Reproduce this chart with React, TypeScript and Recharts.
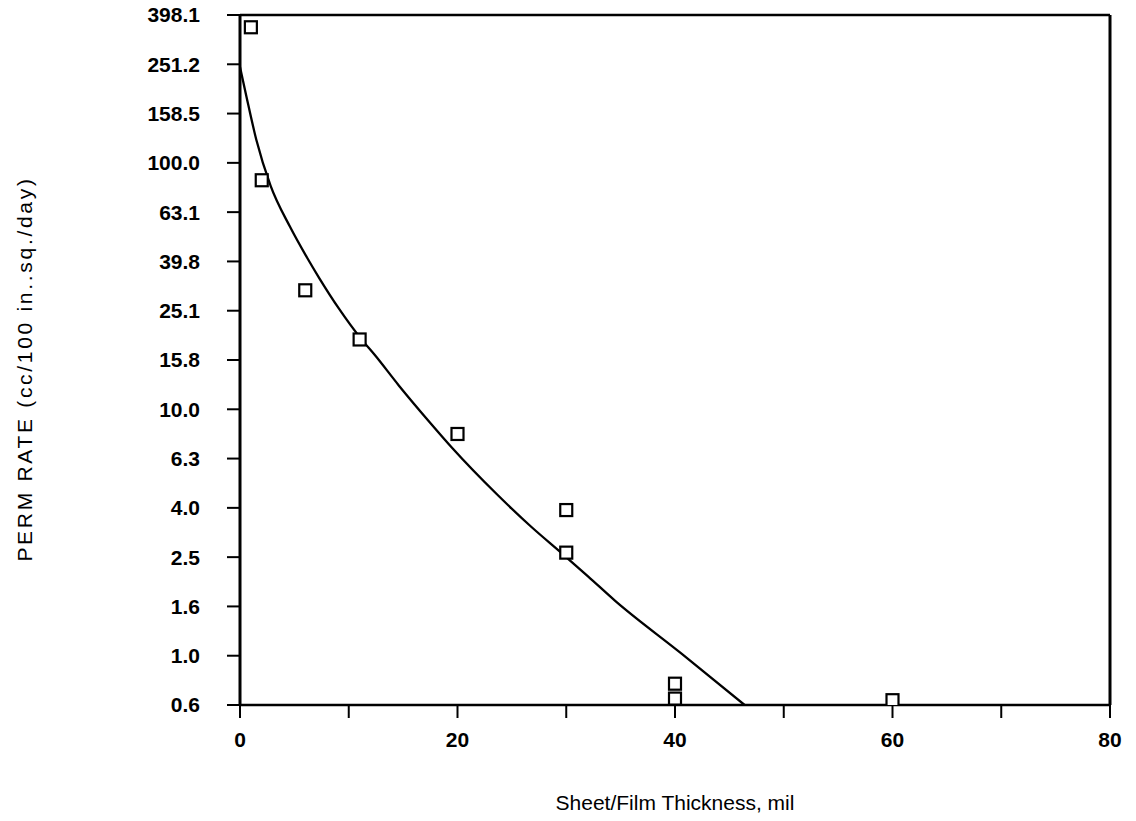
import { ComposedChart, Line, Scatter, XAxis, YAxis, Label, ReferenceLine } from "recharts"

// measured squares (thickness in mil, perm rate)
const sampleX = [1, 2, 6, 11, 20, 30, 30, 40, 40, 60]
const sampleY = [355, 85, 30.4, 19.2, 7.94, 3.9, 2.62, 0.77, 0.67, 0.66]

// fitted curve
const fitX = [0, 0.6, 1.5, 2.8, 4.6, 6.2, 7.3, 9.1, 11.1, 12.4, 14.6, 17.6, 19.6, 23.6, 26.7, 29.7, 32, 34.5, 40.6, 46.4]
const fitY = [245, 185, 124, 81, 55, 41, 34, 25.6, 19.4, 16.6, 12.5, 8.7, 6.9, 4.53, 3.36, 2.58, 2.1, 1.67, 1.02, 0.631]

const xTicks = [0, 10, 20, 30, 40, 50, 60, 70, 80]
const yTicks = [0.631, 1, 1.585, 2.512, 3.981, 6.31, 10, 15.85, 25.12, 39.81, 63.1, 100, 158.5, 251.2, 398.1]
const yTickLabels = ["0.6", "1.0", "1.6", "2.5", "4.0", "6.3", "10.0", "15.8", "25.1", "39.8", "63.1", "100.0", "158.5", "251.2", "398.1"]

const samples = sampleX.map((x, i) => ({ x, y: sampleY[i] }))
const fit = fitX.map((x, i) => ({ x, y: fitY[i] }))

const font = "'Liberation Sans', Arial, sans-serif"
const tickStyle = { fill: "#000", fontSize: 21, fontWeight: 700, fontFamily: font }

const SquareMark = (props: any) => {
  const { cx, cy } = props
  if (cx == null || cy == null) return null
  return <rect x={cx - 6} y={cy - 6} width={12} height={12} fill="#fff" stroke="#000" strokeWidth={2.2} />
}

const YTitle = (props: any) => {
  const vb = props.viewBox || {}
  const cy = (vb.y ?? 15) + (vb.height ?? 690) / 2 + 9
  return (
    <text
      x={24}
      y={cy}
      transform={`rotate(-90, 24, ${cy})`}
      textAnchor="middle"
      dominantBaseline="central"
      fontSize={21}
      fontFamily={font}
      letterSpacing={2.7}
      fill="#000"
    >
      PERM RATE (cc/100 in..sq./day)
    </text>
  )
}

const XTitle = (props: any) => {
  const vb = props.viewBox || {}
  const cx = (vb.x ?? 240) + (vb.width ?? 870) / 2
  const y = (vb.y ?? 705) + 105
  return (
    <text x={cx} y={y} textAnchor="middle" fontSize={21} fontFamily={font} fill="#000">
      Sheet/Film Thickness, mil
    </text>
  )
}

export default function App() {
  return (
    <div style={{ position: "absolute", left: 0, top: 0, width: 1136, height: 821, background: "#fff" }}>
      <ComposedChart width={1136} height={821} margin={{ top: 15, right: 26, bottom: 0, left: 0 }}>
        <XAxis
          dataKey="x"
          type="number"
          domain={[0, 80]}
          ticks={xTicks}
          interval={0}
          tickFormatter={(v: number) => (v % 20 === 0 ? String(v) : "")}
          height={116}
          tickSize={13}
          tickMargin={14}
          tick={tickStyle}
          axisLine={{ stroke: "#000", strokeWidth: 2.5 }}
          tickLine={{ stroke: "#000", strokeWidth: 2 }}
        >
          <Label content={<XTitle />} />
        </XAxis>
        <YAxis
          dataKey="y"
          type="number"
          scale="log"
          domain={[0.631, 398.1]}
          allowDataOverflow
          ticks={yTicks}
          interval={0}
          tickFormatter={(v: number) => {
            const i = yTicks.indexOf(v)
            return i >= 0 ? yTickLabels[i] : ""
          }}
          width={240}
          tickSize={13}
          tickMargin={27}
          tick={tickStyle}
          axisLine={{ stroke: "#000", strokeWidth: 3 }}
          tickLine={{ stroke: "#000", strokeWidth: 2 }}
        >
          <Label content={<YTitle />} />
        </YAxis>
        {/* frame: top and right edges */}
        <ReferenceLine y={398.1} stroke="#000" strokeWidth={2.5} />
        <ReferenceLine x={80} stroke="#000" strokeWidth={3} />
        <Line
          data={fit}
          dataKey="y"
          type="monotone"
          stroke="#000"
          strokeWidth={2.3}
          dot={false}
          activeDot={false}
          isAnimationActive={false}
        />
        <Scatter data={samples} dataKey="y" shape={<SquareMark />} isAnimationActive={false} />
      </ComposedChart>
    </div>
  )
}
